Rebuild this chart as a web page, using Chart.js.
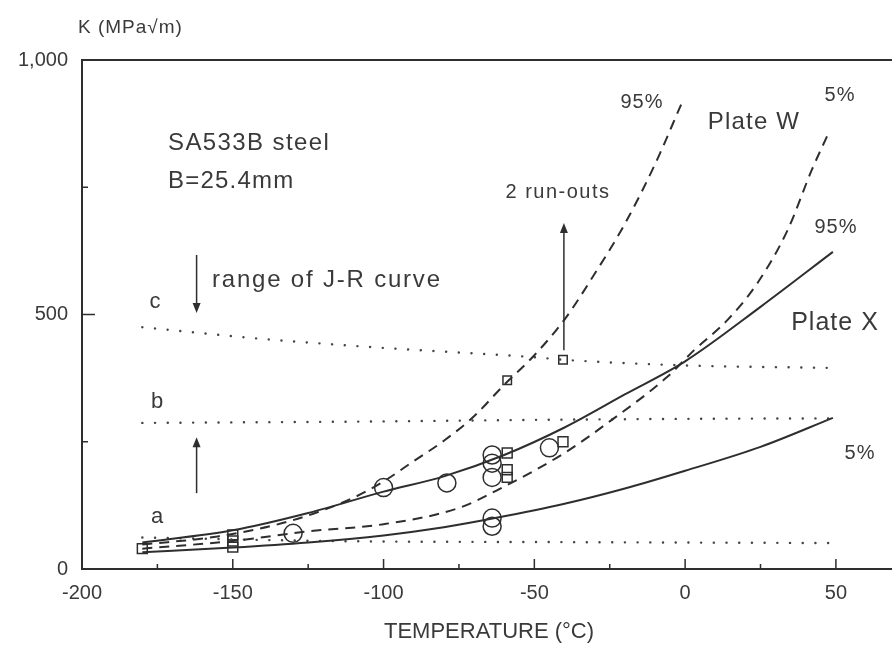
<!DOCTYPE html>
<html><head><meta charset="utf-8">
<script src="https://cdn.jsdelivr.net/npm/chart.js@4"></script>
<style>html,body{margin:0;padding:0;background:#fff}canvas{display:block}</style>
</head><body>
<canvas id="c" width="892" height="646"></canvas>
<script>
// ---- tick labels ----
const xTickLabels = [-200, -150, -100, -50, 0, 50];
const xMinorTicks = [-175, -125, -75, -25, 25];
const yTickLabels = [0, 500, 1000];
const yMinorTicks = [250, 750];

// ---- Plate X (solid) ----
const plateX95T = [-180, -150, -125, -100, -80, -60, -40, -20, 0, 25, 49];
const plateX95K = [52, 76, 110, 152, 182, 224, 278, 343, 408, 515, 623];
const plateX5T  = [-180, -150, -125, -100, -80, -63, -40, -20, 0, 25, 49];
const plateX5K  = [33, 42, 52, 66, 82, 100, 128, 158, 193, 240, 297];

// ---- Plate W (dashed) ----
const plateW95T = [-180, -155, -130, -110, -100, -90, -80, -70, -60, -50, -40, -30, -20, -10, -1];
const plateW95K = [48, 64, 96, 140, 172, 212, 252, 300, 362, 420, 490, 580, 678, 795, 917];
const plateW5T  = [-180, -150, -125, -100, -75, -60, -40, -25, -6, 3, 14, 24, 34, 42, 48];
const plateW5K  = [40, 55, 74, 88, 120, 162, 228, 290, 377, 430, 489, 562, 666, 784, 862];

// ---- J-R curve range lines (dotted) ----
const lineCT = [-180, -140, -99, -77, -50, -40, 0, 49];
const lineCK = [475, 452, 434, 426, 416, 411, 400, 395];
const lineBT = [-180, -100, -50, 0, 49];
const lineBK = [287, 290, 293, 295, 296];
const lineAT = [-180, -130, -100, -50, 0, 49];
const lineAK = [62, 56, 54, 53, 52, 51];

// ---- test data ----
const circleT = [-130, -100, -79, -64, -64, -64, -64, -64, -45];
const circleK = [70, 160, 169, 224, 208, 180, 100, 84, 238];
const squareT = [-180, -150, -150, -150, -59, -59, -59, -40.5];
const squareK = [40, 43, 55, 67, 228, 195, 180, 250];
const smallSquareT = [-59, -40.5];
const smallSquareK = [371, 411];

// ---- arrows (T, from K, to K) ----
const arrowT    = [-40.2, -162, -162];
const arrowFrom = [430, 617, 149];
const arrowTo   = [680, 503, 259];

const pts = (T, K) => T.map((t, i) => ({x: t, y: K[i]}));
const INK = '#2e2e2e';
const TXT = '#3a3a3a';
const FONT = '"Liberation Sans", Arial, sans-serif';

const curve = (T, K, dash) => ({
  data: pts(T, K), showLine: true, pointRadius: 0, borderColor: INK,
  borderWidth: 2, borderDash: dash || [], cubicInterpolationMode: 'monotone', fill: false
});
const dotted = (T, K) => ({
  data: pts(T, K), showLine: true, pointRadius: 0, borderColor: '#444',
  borderWidth: 2.4, borderDash: [0.1, 12.6], borderCapStyle: 'round',
  cubicInterpolationMode: 'monotone', fill: false
});

const deco = {
  id: 'deco',
  beforeDatasetsDraw(chart) {
    const {ctx, chartArea: a, scales: {x, y}} = chart;
    const W = chart.width;
    ctx.save();
    ctx.strokeStyle = INK; ctx.lineWidth = 2; ctx.lineCap = 'butt';
    ctx.beginPath();
    ctx.moveTo(W, a.top); ctx.lineTo(a.left, a.top);
    ctx.lineTo(a.left, a.bottom); ctx.lineTo(W, a.bottom);
    ctx.stroke();
    ctx.lineWidth = 1.5;
    ctx.beginPath();
    xTickLabels.forEach(v => { const px = x.getPixelForValue(v); if (v > -200) { ctx.moveTo(px, a.bottom); ctx.lineTo(px, a.bottom - 10); } });
    xMinorTicks.forEach(v => { const px = x.getPixelForValue(v); ctx.moveTo(px, a.bottom); ctx.lineTo(px, a.bottom - 5); });
    ctx.moveTo(a.left, y.getPixelForValue(500)); ctx.lineTo(a.left + 13, y.getPixelForValue(500));
    yMinorTicks.forEach(v => { const py = y.getPixelForValue(v); ctx.moveTo(a.left, py); ctx.lineTo(a.left + 6, py); });
    ctx.stroke();
    // x tick labels
    ctx.fillStyle = TXT;
    ctx.font = '20px ' + FONT;
    ctx.textAlign = 'center'; ctx.textBaseline = 'middle';
    xTickLabels.forEach(v => ctx.fillText(String(v), x.getPixelForValue(v), a.bottom + 24));
    ctx.restore();
  },
  afterDraw(chart) {
    const {ctx, scales: {x, y}} = chart;
    ctx.save();
    // arrows
    ctx.strokeStyle = INK; ctx.fillStyle = INK; ctx.lineWidth = 1.5;
    arrowT.forEach((t, i) => {
      const px = x.getPixelForValue(t);
      const y0 = y.getPixelForValue(arrowFrom[i]);
      const y1 = y.getPixelForValue(arrowTo[i]);
      const dir = y1 < y0 ? -1 : 1;
      ctx.beginPath(); ctx.moveTo(px, y0); ctx.lineTo(px, y1 - dir * 8); ctx.stroke();
      ctx.beginPath(); ctx.moveTo(px, y1); ctx.lineTo(px - 4, y1 - dir * 10); ctx.lineTo(px + 4, y1 - dir * 10); ctx.closePath(); ctx.fill();
    });
    // texts
    ctx.fillStyle = TXT;
    ctx.textBaseline = 'middle';
    const t = (s, px, py, size, align, ls) => {
      ctx.font = size + 'px ' + FONT;
      ctx.letterSpacing = (ls === undefined ? 1 : ls) + 'px';
      ctx.textAlign = align || 'left';
      ctx.fillText(s, px, py);
    };
    t('K (MPa\u221Am)', 78, 28, 19, 'left', 1);
    t('SA533B steel', 168, 143, 24, 'left', 1.4);
    t('B=25.4mm', 168, 181, 24, 'left', 1.2);
    t('range of J-R curve', 212, 280, 24, 'left', 1.8);
    t('c', 155, 302, 22, 'center', 0);
    t('b', 157, 402, 22, 'center', 0);
    t('a', 157, 517, 22, 'center', 0);
    t('2 run-outs', 558, 192, 20, 'center', 1.5);
    t('95%', 642, 102, 20, 'center', 1);
    t('Plate W', 754, 122, 24, 'center', 1.2);
    t('5%', 840, 95, 20, 'center', 1);
    t('95%', 836, 227, 20, 'center', 1);
    t('Plate X', 835, 323, 25, 'center', 1);
    t('5%', 860, 453, 20, 'center', 1);
    ctx.font = '22px "Liberation Sans Narrow", ' + FONT;
    ctx.letterSpacing = '0px';
    ctx.textAlign = 'center';
    ctx.fillText('TEMPERATURE (\u00B0C)', 489, 632);
    ctx.restore();
  }
};

new Chart(document.getElementById('c'), {
  type: 'scatter',
  data: {
    datasets: [
      curve(plateX95T, plateX95K),
      curve(plateX5T, plateX5K),
      curve(plateW95T, plateW95K, [10, 7]),
      curve(plateW5T, plateW5K, [10, 7]),
      dotted(lineCT, lineCK),
      dotted(lineBT, lineBK),
      dotted(lineAT, lineAK),
      { data: pts(circleT, circleK), pointStyle: 'circle', pointRadius: 9, borderColor: INK, borderWidth: 1.5, backgroundColor: 'rgba(255,255,255,0)' },
      { data: pts(squareT, squareK), pointStyle: 'rect', pointRadius: 7, borderColor: INK, borderWidth: 1.5, backgroundColor: 'rgba(255,255,255,0)' },
      { data: pts(smallSquareT, smallSquareK), pointStyle: 'rect', pointRadius: 6, borderColor: INK, borderWidth: 1.5, backgroundColor: 'rgba(255,255,255,1)' }
    ]
  },
  options: {
    responsive: false, animation: false, devicePixelRatio: 1,
    layout: { autoPadding: false, padding: { top: 60, left: 0, right: 0, bottom: 0 } },
    plugins: { legend: { display: false }, tooltip: { enabled: false } },
    scales: {
      x: {
        type: 'linear', min: -200, max: 68.6,
        grid: { display: false, drawTicks: false }, border: { display: false },
        afterBuildTicks: s => { s.ticks = xTickLabels.map(v => ({ value: v })); },
        afterFit: s => { s.height = 77; s.paddingLeft = 0; s.paddingRight = 0; },
        ticks: { display: false }
      },
      y: {
        type: 'linear', min: 0, max: 1000,
        grid: { display: false, drawTicks: false }, border: { display: false },
        afterBuildTicks: s => { s.ticks = yTickLabels.map(v => ({ value: v })); },
        afterFit: s => { s.width = 82; s.paddingTop = 0; s.paddingBottom = 0; },
        ticks: { padding: 14, color: TXT, font: { size: 20, family: FONT }, callback: v => v === 1000 ? '1,000' : String(v) }
      }
    }
  },
  plugins: [deco]
});
</script>
</body></html>
